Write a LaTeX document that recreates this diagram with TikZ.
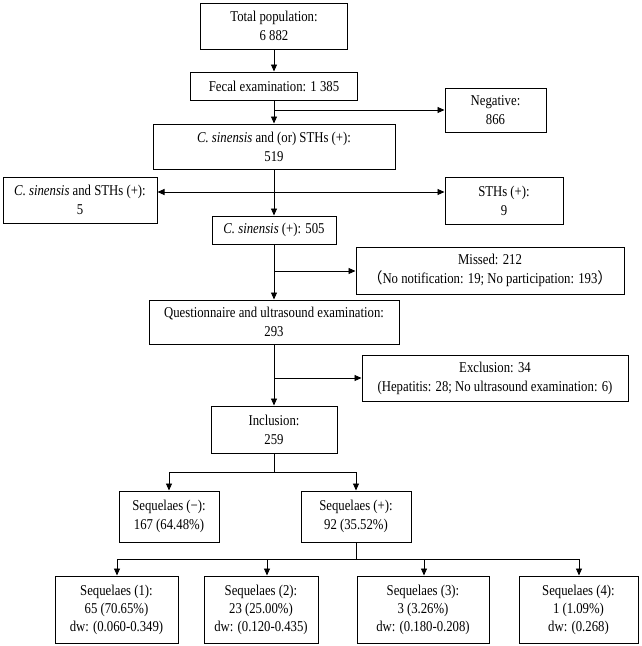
\documentclass[tikz,border=0pt]{standalone}
\usepackage{fontspec}
\setmainfont[FakeStretch=0.85]{Liberation Serif}
\newfontfamily\cjkfont{Noto Sans CJK SC}
\usetikzlibrary{arrows.meta}
\begin{document}
\begin{tikzpicture}[x=1pt,y=-1pt,
  box/.style={draw, line width=1pt, inner sep=0pt, align=center, font=\fontsize{15}{19}\selectfont},
  box3/.style={box, font=\fontsize{15}{18}\selectfont},
  arr/.style={line width=0.9pt, -{Triangle[length=7pt,width=6pt]}},
  ln/.style={line width=0.9pt},
  dbl/.style={line width=0.9pt, {Triangle[length=7pt,width=6pt]}-{Triangle[length=7pt,width=6pt]}}]
\useasboundingbox (0,0) rectangle (642,646);

\node[box, minimum width=147pt, minimum height=46pt] (tot) at (274,26) {Total population:\\6 882};
\node[box, minimum width=167pt, minimum height=28pt] (fec) at (274,86) {Fecal examination: 1 385};
\node[box, minimum width=101pt, minimum height=44pt] (neg) at (495.5,110) {Negative:\\866};
\node[box, minimum width=242pt, minimum height=45pt] (cs) at (274,146.5) {\textit{C. sinensis} and (or) STHs (+):\\519};
\node[box, minimum width=154pt, minimum height=46pt] (both) at (80,200) {\textit{C. sinensis} and STHs (+):\\5};
\node[box, minimum width=118pt, minimum height=47pt] (sth) at (504,200.5) {STHs (+):\\9};
\node[box, minimum width=124pt, minimum height=28pt] (csp) at (274,230) {\textit{C. sinensis} (+): 505};
\node[box, minimum width=268pt, minimum height=47pt] (miss) at (490,270.5) {Missed: 212\\{\cjkfont （}No notification: 19; No participation: 193{\cjkfont ）}};
\node[box, minimum width=250pt, minimum height=44pt] (qu) at (274,322) {Questionnaire and ultrasound examination:\\293};
\node[box, minimum width=266pt, minimum height=46pt] (exc) at (495,378) {Exclusion: 34\\(Hepatitis: 28; No ultrasound examination: 6)};
\node[box, minimum width=126pt, minimum height=47pt] (inc) at (274,429.5) {Inclusion:\\259};
\node[box, minimum width=100pt, minimum height=51pt] (sneg) at (169,516.5) {Sequelaes (−):\\167 (64.48\%)};
\node[box, minimum width=110pt, minimum height=51pt] (spos) at (356,516.5) {Sequelaes (+):\\92 (35.52\%)};
\node[box3, minimum width=123pt, minimum height=67pt] (s1) at (116.5,609.5) {Sequelaes (1):\\65 (70.65\%)\\dw: (0.060-0.349)};
\node[box3, minimum width=114pt, minimum height=67pt] (s2) at (261,609.5) {Sequelaes (2):\\23 (25.00\%)\\dw: (0.120-0.435)};
\node[box3, minimum width=132pt, minimum height=67pt] (s3) at (423,609.5) {Sequelaes (3):\\3 (3.26\%)\\dw: (0.180-0.208)};
\node[box3, minimum width=119pt, minimum height=67pt] (s4) at (578.5,609.5) {Sequelaes (4):\\1 (1.09\%)\\dw: (0.268)};

\coordinate (b1) at (274,110);
\coordinate (b2) at (274,192);
\coordinate (b3) at (274,271);
\coordinate (b4) at (274,378);
\coordinate (b5) at (274,472);
\coordinate (b6) at (356,559);
\coordinate (a1) at (117,559);
\coordinate (a2) at (267,559);
\coordinate (a3) at (424,559);
\coordinate (a4) at (579,559);

\draw[arr] (tot) -- (fec);
\draw[arr] (fec) -- (cs);
\draw[arr] (b1) -- (neg);
\draw[dbl] (b2 -| both.east) -- (b2 -| sth.west);
\draw[arr] (cs) -- (csp);
\draw[arr] (b3) -- (b3 -| miss.west);
\draw[arr] (csp) -- (qu);
\draw[arr] (b4) -- (b4 -| exc.west);
\draw[arr] (qu) -- (inc);
\draw[ln] (inc) -- (b5);
\draw[arr] (b5) -| (sneg);
\draw[arr] (b5) -| (spos);
\draw[ln] (spos) -- (b6);
\draw[ln, line cap=rect] (a1) -- (a4);
\draw[arr] (a1) -- (a1 |- s1.north);
\draw[arr] (a2) -- (a2 |- s2.north);
\draw[arr] (a3) -- (a3 |- s3.north);
\draw[arr] (a4) -- (a4 |- s4.north);
\end{tikzpicture}
\end{document}
